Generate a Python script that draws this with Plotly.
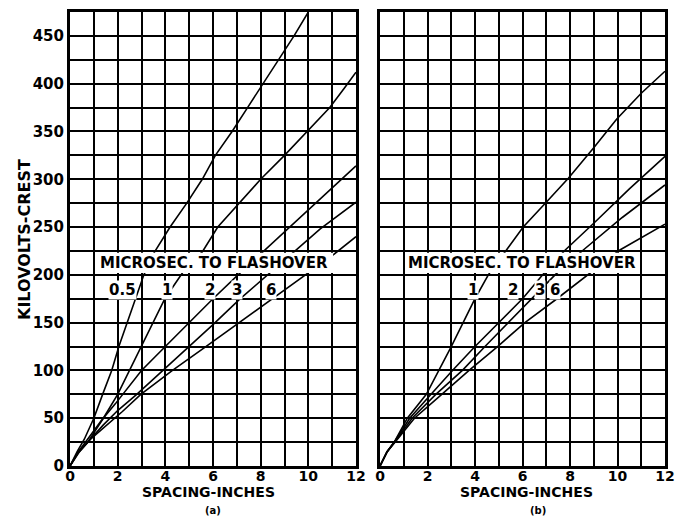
import plotly.graph_objects as go

# ---------------- data ----------------
# panel (a)
a_x_05 = [0, 0.3, 0.6, 1.0, 1.4, 1.75, 2.05, 2.4, 2.75, 3.1, 3.55, 4.2, 4.9, 5.55, 6.1, 6.8, 7.45, 8.1, 8.75, 9.4, 10.0]
a_y_05 = [0, 15, 28, 50, 77, 100, 125, 150, 175, 200, 224, 250, 275, 300, 325, 350, 375, 400, 425, 450, 475]

a_x_1 = [0, 0.35, 0.75, 1.4, 2.0, 2.5, 2.97, 3.48, 3.98, 4.8, 5.55, 6.2, 7.1, 8.0, 9.0, 9.95, 10.9, 11.5, 12.0]
a_y_1 = [0, 15, 25, 50, 75, 100, 125, 150, 175, 205, 224, 250, 275, 300, 325, 350, 375, 395, 412]

a_x_2 = [0, 0.35, 0.8, 1.3, 1.9, 2.45, 3.0, 4.0, 5.0, 6.0, 7.05, 8.1, 9.0, 10.0, 11.0, 12.0]
a_y_2 = [0, 15, 30, 47, 65, 82, 100, 125, 150, 175, 200, 224, 245, 268, 291, 314]

a_x_3 = [0, 0.35, 0.85, 1.4, 2.0, 2.8, 3.9, 5.0, 6.0, 7.1, 8.3, 9.3, 10.5, 12.0]
a_y_3 = [0, 14, 28, 43, 58, 75, 100, 125, 148, 174, 200, 222, 248, 276]

a_x_6 = [0, 0.4, 0.9, 1.5, 2.2, 2.97, 4.3, 5.7, 7.1, 8.5, 9.93, 11.0, 12.0]
a_y_6 = [0, 15, 29, 42, 57, 75, 100, 125, 150, 175, 200, 220, 240]

# panel (b)
b_x_1 = [0, 0.3, 0.6, 1.15, 1.95, 2.48, 3.0, 3.5, 4.0, 4.56, 5.26, 6.03, 7.0, 7.93, 9.0, 9.97, 11.0, 12.0]
b_y_1 = [0, 15, 25, 50, 75, 100, 125, 150, 175, 200, 224, 250, 276, 301, 333, 363, 390, 413]

b_x_2 = [0, 0.3, 0.65, 1.25, 2.15, 3.05, 4.0, 5.0, 6.0, 6.85, 7.8, 9.0, 10.5, 12.0]
b_y_2 = [0, 15, 27, 50, 75, 100, 125, 150, 175, 200, 226, 254, 290, 324]

b_x_3 = [0, 0.3, 0.68, 1.35, 2.35, 3.47, 4.42, 5.4, 6.4, 7.37, 8.56, 10.2, 12.0]
b_y_3 = [0, 15, 27, 50, 75, 100, 125, 150, 175, 200, 226, 260, 294]

b_x_6 = [0, 0.3, 0.7, 1.45, 2.6, 3.75, 4.95, 6.1, 7.45, 8.77, 10.1, 12.0]
b_y_6 = [0, 15, 27, 50, 75, 100, 125, 150, 175, 200, 226, 253]

# curve labels
a_labels = ["0.5", "1", "2", "3", "6"]
a_label_x = [2.22, 4.07, 5.87, 7.01, 8.44]
b_labels = ["1", "2", "3", "6"]
b_label_x = [3.92, 5.6, 6.74, 7.37]
label_kv = 184

x_ticks = [0, 2, 4, 6, 8, 10, 12]
y_ticks = [0, 50, 100, 150, 200, 250, 300, 350, 400, 450]

box_text = "MICROSEC. TO FLASHOVER"
x_title = "SPACING-INCHES"
y_title = "KILOVOLTS-CREST"

# ---------------- figure ----------------
FONT = "DejaVu Sans"
fig = go.Figure()

line_style = dict(color="black", width=1.6)
for xs, ys in [(a_x_05, a_y_05), (a_x_1, a_y_1), (a_x_2, a_y_2), (a_x_3, a_y_3), (a_x_6, a_y_6)]:
    fig.add_trace(go.Scatter(x=xs, y=ys, mode="lines", line=line_style,
                             xaxis="x", yaxis="y", showlegend=False, hoverinfo="skip"))
for xs, ys in [(b_x_1, b_y_1), (b_x_2, b_y_2), (b_x_3, b_y_3), (b_x_6, b_y_6)]:
    fig.add_trace(go.Scatter(x=xs, y=ys, mode="lines", line=line_style,
                             xaxis="x2", yaxis="y2", showlegend=False, hoverinfo="skip"))

W, H = 678, 517
left_px = (70, 356)
right_px = (380, 665)
top_py, bot_py = 12, 466

tickfont = dict(family=FONT, size=14, color="black", weight="bold")

def xaxis_cfg(px):
    return dict(
        domain=[px[0] / W, px[1] / W], range=[0, 12], automargin=False,
        tickmode="array", tickvals=x_ticks, ticktext=[str(v) for v in x_ticks],
        showgrid=True, gridcolor="black", gridwidth=1.6,
        minor=dict(dtick=1, tick0=0, showgrid=True, gridcolor="black", gridwidth=1.6),
        showline=True, linecolor="black", linewidth=3, mirror=True,
        zeroline=False, ticks="", tickfont=tickfont, ticklabelstandoff=-5,
    )

ydom = [(H - bot_py) / H, (H - top_py) / H]
def yaxis_cfg(anchor, labels):
    return dict(
        domain=ydom, range=[0, 475], anchor=anchor, automargin=False,
        tickmode="array", tickvals=y_ticks, ticktext=[str(v) for v in y_ticks],
        showticklabels=labels,
        showgrid=True, gridcolor="black", gridwidth=1.6,
        minor=dict(dtick=25, tick0=0, showgrid=True, gridcolor="black", gridwidth=1.6),
        showline=True, linecolor="black", linewidth=3, mirror=True,
        zeroline=False, ticks="", tickfont=dict(tickfont, size=15),
    )

fig.update_layout(
    width=W, height=H,
    margin=dict(l=0, r=0, t=0, b=0, autoexpand=False),
    paper_bgcolor="white", plot_bgcolor="white",
    xaxis=dict(xaxis_cfg(left_px), anchor="y"),
    yaxis=yaxis_cfg("x", True),
    xaxis2=dict(xaxis_cfg(right_px), anchor="y2"),
    yaxis2=yaxis_cfg("x2", False),
)

# white boxes holding the caption (cover the curves)
fig.add_shape(type="rect", xref="x", yref="y", x0=1.09, x1=11.04, y0=202, y1=223,
              fillcolor="white", line=dict(width=0), layer="above")
fig.add_shape(type="rect", xref="x2", yref="y2", x0=1.18, x1=10.74, y0=202, y1=223,
              fillcolor="white", line=dict(width=0), layer="above")

boxfont = dict(family=FONT, size=15, color="black", weight="bold")
fig.add_annotation(xref="x", yref="y", x=6.06, y=212, text=box_text, showarrow=False,
                   font=boxfont, xanchor="center", yanchor="middle")
fig.add_annotation(xref="x2", yref="y2", x=5.96, y=212, text=box_text, showarrow=False,
                   font=boxfont, xanchor="center", yanchor="middle")

for t, xv in zip(a_labels, a_label_x):
    fig.add_annotation(xref="x", yref="y", x=xv, y=label_kv, text=t, showarrow=False,
                       font=boxfont, bgcolor="white", borderpad=0,
                       xanchor="center", yanchor="middle")
for t, xv in zip(b_labels, b_label_x):
    fig.add_annotation(xref="x2", yref="y2", x=xv, y=label_kv, text=t, showarrow=False,
                       font=boxfont, bgcolor="white", borderpad=0,
                       xanchor="center", yanchor="middle")

# axis titles and panel captions (placed in page pixels)
def ann_px(text, px, py, size=15, angle=0):
    fig.add_annotation(xref="paper", yref="paper", x=px / W, y=1 - py / H, text=text,
                       textangle=angle, showarrow=False, xanchor="center", yanchor="middle",
                       font=dict(family=FONT, size=size, color="black", weight="bold"))

ann_px(y_title, 25, 240, size=16, angle=-90)
ann_px(x_title, 208, 492, size=14)
ann_px(x_title, 526, 492, size=14)
ann_px("(a)", 213, 510, size=10)
ann_px("(b)", 538, 510, size=10)

fig.write_html("out.html", config={"displayModeBar": False},
               post_script="document.body.style.margin='0px';")
